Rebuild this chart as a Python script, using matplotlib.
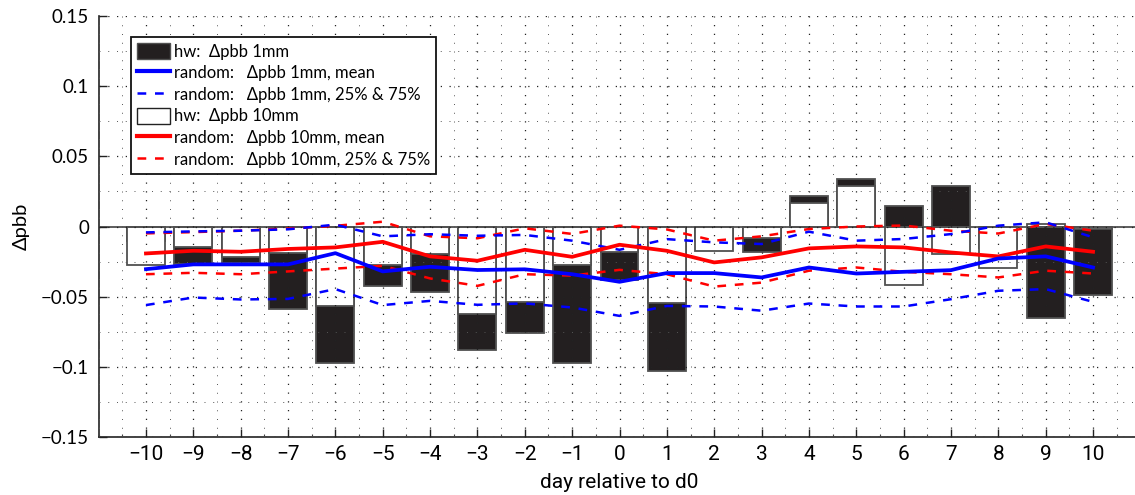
import numpy as np
import matplotlib
matplotlib.use("Agg")
import matplotlib.pyplot as plt
from matplotlib.patches import Patch
from matplotlib.lines import Line2D
from matplotlib.ticker import MultipleLocator, FixedLocator

days = list(range(-10, 11))

hw_1mm = [-0.010, -0.0265, -0.026, -0.059, -0.0975, -0.0423, -0.0466, -0.088, -0.076, -0.0975,
          -0.038, -0.103, -0.010, -0.0185, 0.022, 0.0337, 0.0146, 0.0292, -0.015, -0.0654, -0.049]
hw_10mm = [-0.0277, -0.0144, -0.0216, -0.019, -0.0566, -0.0273, -0.0196, -0.062, -0.0535, -0.0273,
           -0.0185, -0.0546, -0.0173, -0.0083, 0.0166, 0.0292, -0.0418, -0.0194, -0.0296, 0.002, -0.002]

rnd1_mean = [-0.0304, -0.027, -0.027, -0.027, -0.019, -0.032, -0.0287, -0.031, -0.0305, -0.034,
             -0.0394, -0.0332, -0.0332, -0.0363, -0.0292, -0.0335, -0.0323, -0.0311, -0.0228, -0.0213, -0.0292]
rnd1_q75 = [-0.0042, -0.0035, -0.003, -0.002, 0.0013, -0.007, -0.0055, -0.0066, -0.006, -0.0101,
            -0.0166, -0.009, -0.0113, -0.0125, -0.0037, -0.0101, -0.0089, -0.0054, 0.0006, 0.003, -0.0077]
rnd1_q25 = [-0.056, -0.0506, -0.052, -0.0516, -0.0446, -0.056, -0.053, -0.0558, -0.0548, -0.0577,
            -0.0637, -0.0566, -0.057, -0.060, -0.0549, -0.057, -0.057, -0.0518, -0.0458, -0.0446, -0.0537]

rnd10_mean = [-0.0192, -0.0173, -0.018, -0.016, -0.0149, -0.0109, -0.0213, -0.0244, -0.0166, -0.0216,
              -0.013, -0.0173, -0.0256, -0.022, -0.0156, -0.0142, -0.0149, -0.0185, -0.0213, -0.0142, -0.018]
rnd10_q75 = [-0.0049, -0.004, -0.003, -0.0015, 0.0005, 0.0034, -0.007, -0.0084, -0.0013, -0.0053,
             0.0006, -0.0021, -0.0101, -0.007, -0.0018, 0.0, 0.0007, -0.003, -0.005, 0.0018, -0.003]
rnd10_q25 = [-0.034, -0.033, -0.034, -0.032, -0.030, -0.028, -0.037, -0.0423, -0.034, -0.035,
             -0.0309, -0.034, -0.0428, -0.040, -0.0315, -0.0292, -0.0323, -0.034, -0.0363, -0.0315, -0.0335]

yticks = [-0.15, -0.1, -0.05, 0, 0.05, 0.1, 0.15]
yticklabels = ["\u22120.15", "\u22120.1", "\u22120.05", "0", "0.05", "0.1", "0.15"]
xticklabels = [("\u2212%d" % -d) if d < 0 else str(d) for d in days]

legend_labels = ["hw:  \u0394pbb 1mm",
                 "random:   \u0394pbb 1mm, mean",
                 "random:   \u0394pbb 1mm, 25% & 75%",
                 "hw:  \u0394pbb 10mm",
                 "random:   \u0394pbb 10mm, mean",
                 "random:   \u0394pbb 10mm, 25% & 75%"]

NARROW = ['Liberation Sans Narrow', 'Roboto', 'DejaVu Sans']
NORMAL = ['Lato', 'DejaVu Sans']
plt.rcParams['font.family'] = NORMAL

W, H = 1135, 495
fig = plt.figure(figsize=(W / 100, H / 100), dpi=100)
left = 98.6 / W
right = 1140.4 / W
top = 1 - 16 / H
bottom = 1 - 437 / H
ax = fig.add_axes([left, bottom, right - left, top - bottom])

black = '#231f20'
edge = '#505050'
ax.bar(days, hw_1mm, width=0.8, color=black, edgecolor=edge, linewidth=1.3, zorder=1)
ax.bar(days, hw_10mm, width=0.8, color='white', edgecolor=edge, linewidth=1.3, zorder=1.1)
ax.axhline(0, color='#505050', lw=1.3, zorder=1.2)

dash = (0, (3.5, 3.5))
ax.plot(days, rnd10_q75, color='red', lw=1.8, linestyle=dash, zorder=3)
ax.plot(days, rnd10_q25, color='red', lw=1.8, linestyle=dash, zorder=3)
ax.plot(days, rnd1_q75, color='blue', lw=1.8, linestyle=dash, zorder=3.1)
ax.plot(days, rnd1_q25, color='blue', lw=1.8, linestyle=dash, zorder=3.1)
ax.plot(days, rnd10_mean, color='red', lw=2.7, zorder=3.2)
ax.plot(days, rnd1_mean, color='blue', lw=2.7, zorder=3.3)

ax.set_xlim(-11, 11)
ax.set_ylim(-0.15, 0.15)
ax.set_xticks(days)
ax.set_xticklabels(xticklabels, family=NARROW, fontsize=15)
ax.xaxis.set_minor_locator(MultipleLocator(0.5))
ax.set_yticks(yticks)
ax.set_yticklabels(yticklabels, family=NORMAL, fontsize=13.5)
ax.yaxis.set_minor_locator(MultipleLocator(0.025))

ax.tick_params(axis='both', which='major', direction='in', length=6, width=1.0, color='#222')
ax.tick_params(axis='x', which='major', pad=6)
ax.tick_params(axis='y', which='major', pad=7)
ax.tick_params(axis='x', which='minor', direction='in', length=2.5, width=0.8, color='#444')
ax.tick_params(axis='y', which='minor', length=0)

ax.set_axisbelow(False)
ax.grid(True, which='major', color='#222', lw=0.9, linestyle=(0, (1, 6)))
ax.grid(True, which='minor', color='#555', lw=0.7, linestyle=(0, (1, 8)))

for s in ['top', 'right']:
    ax.spines[s].set_visible(False)
for s in ['left', 'bottom']:
    ax.spines[s].set_color('#222')
    ax.spines[s].set_linewidth(1.2)

ax.set_xlabel("day relative to d0", family=NARROW, fontsize=15, labelpad=6)
ax.set_ylabel("\u0394pbb", family=NORMAL, fontsize=14.5, labelpad=8)

handles = [
    Patch(facecolor=black, edgecolor=edge, linewidth=1.0),
    Line2D([], [], color='blue', lw=3),
    Line2D([], [], color='blue', lw=1.8, linestyle=(0, (3.5, 3.5))),
    Patch(facecolor='white', edgecolor='#222', linewidth=1.0),
    Line2D([], [], color='red', lw=3),
    Line2D([], [], color='red', lw=1.8, linestyle=(0, (3.5, 3.5))),
]
leg = ax.legend(handles, legend_labels, loc='upper left',
                bbox_to_anchor=((131 - 98.6) / (1140.4 - 98.6), (437 - 37) / 421),
                borderaxespad=0, fontsize=12, frameon=True, fancybox=False,
                edgecolor='#111', framealpha=1, handlelength=2.0, handleheight=1.1,
                handletextpad=0.2, labelspacing=0.3, borderpad=0.35)
leg.get_frame().set_linewidth(1.3)
leg.set_zorder(5)

fig.savefig("out.png", dpi=100)
